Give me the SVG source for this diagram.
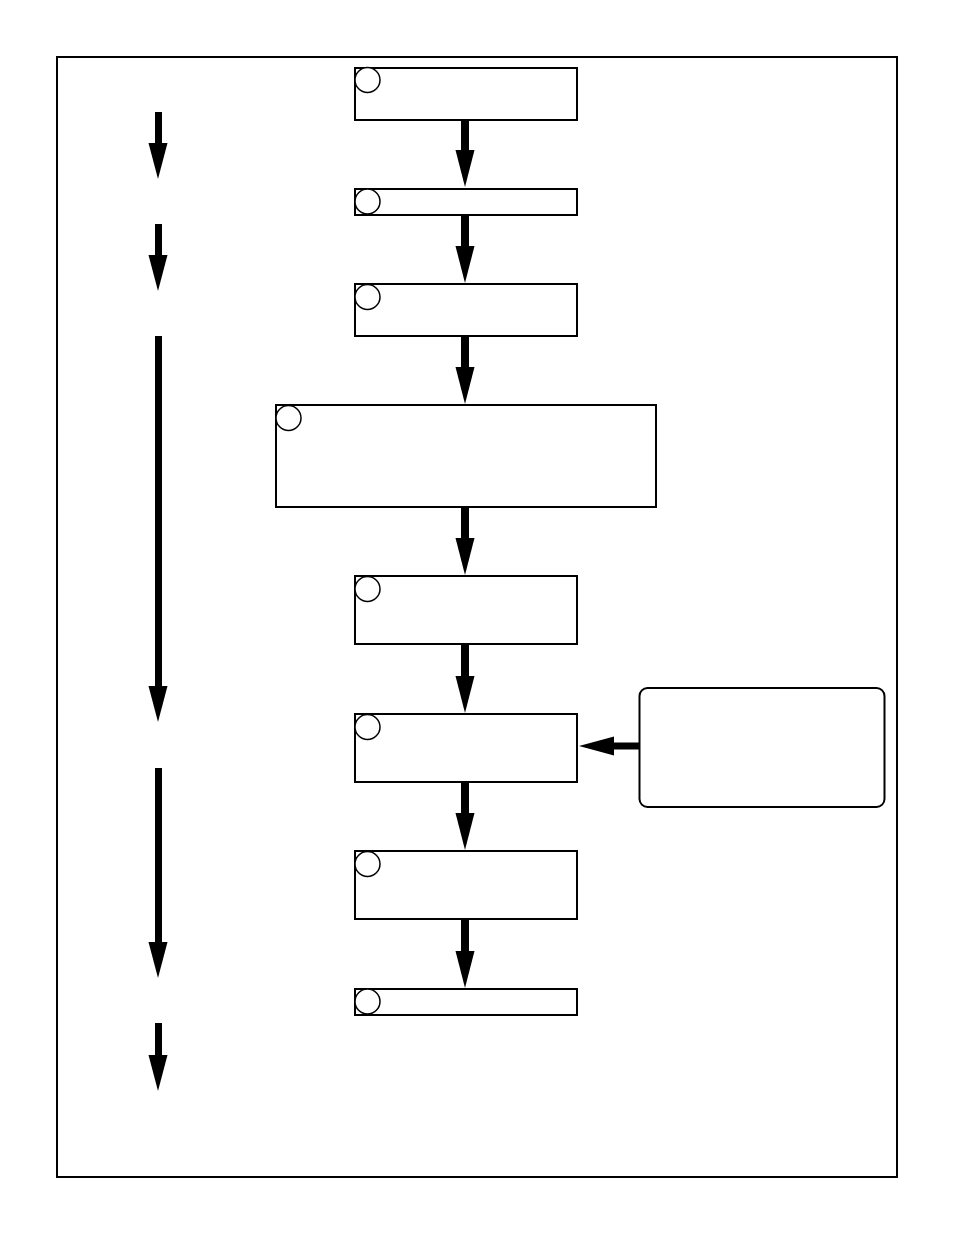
<svg xmlns="http://www.w3.org/2000/svg" width="954" height="1235" viewBox="0 0 954 1235">
<style>
.box{fill:#fff;stroke:#000;stroke-width:2}
.num{fill:#fff;stroke:#000;stroke-width:1.5}
.shaft{fill:#000}
</style>
<rect x="0" y="0" width="954" height="1235" fill="#fff"/>
<rect x="57" y="57" width="840" height="1120" fill="none" stroke="#000" stroke-width="2"/>
<g id="connectors">
<g class="shaft">
<rect x="461" y="120" width="8" height="34"/><path d="M455.5,150 L474.5,150 L465,187 Z"/>
<rect x="461" y="215" width="8" height="34"/><path d="M455.5,246 L474.5,246 L465,283 Z"/>
<rect x="461" y="336" width="8" height="34"/><path d="M455.5,367 L474.5,367 L465,404 Z"/>
<rect x="461" y="507" width="8" height="34"/><path d="M455.5,538 L474.5,538 L465,575 Z"/>
<rect x="461" y="644" width="8" height="34"/><path d="M455.5,676 L474.5,676 L465,713 Z"/>
<rect x="461" y="782" width="8" height="34"/><path d="M455.5,813 L474.5,813 L465,850 Z"/>
<rect x="461" y="919" width="8" height="34"/><path d="M455.5,951 L474.5,951 L465,988 Z"/>
<rect x="610" y="742.5" width="29" height="7"/><path d="M614,736.5 L614,755.5 L579,746 Z"/>
<rect x="155" y="112" width="7" height="34"/><path d="M148.5,143 L167.5,143 L158,179 Z"/>
<rect x="155" y="224" width="7" height="34"/><path d="M148.5,255 L167.5,255 L158,291 Z"/>
<rect x="155" y="336" width="7" height="352"/><path d="M148.5,686 L167.5,686 L158,722 Z"/>
<rect x="155" y="768" width="7" height="176"/><path d="M148.5,942 L167.5,942 L158,978 Z"/>
<rect x="155" y="1023" width="7" height="34"/><path d="M148.5,1055 L167.5,1055 L158,1091 Z"/>
</g>
</g>
<g id="n1"><rect class="box" x="355" y="68" width="222" height="52"/><circle class="num" cx="367.5" cy="80" r="12.5"/></g>
<g id="n2"><rect class="box" x="355" y="189" width="222" height="26"/><circle class="num" cx="367.5" cy="201.5" r="12.5"/></g>
<g id="n3"><rect class="box" x="355" y="284" width="222" height="52"/><circle class="num" cx="367.5" cy="297" r="12.5"/></g>
<g id="n4"><rect class="box" x="276" y="405" width="380" height="102"/><circle class="num" cx="288.5" cy="418" r="12.5"/></g>
<g id="n5"><rect class="box" x="355" y="576" width="222" height="68"/><circle class="num" cx="367.5" cy="589" r="12.5"/></g>
<g id="n6"><rect class="box" x="355" y="714" width="222" height="68"/><circle class="num" cx="367.5" cy="727" r="12.5"/></g>
<g id="n7"><rect class="box" x="355" y="851" width="222" height="68"/><circle class="num" cx="367.5" cy="864" r="12.5"/></g>
<g id="n8"><rect class="box" x="355" y="989" width="222" height="26"/><circle class="num" cx="367.5" cy="1001.5" r="12.5"/></g>
<g id="side"><rect class="box" x="639.5" y="688" width="245" height="119" rx="8"/></g>
</svg>
